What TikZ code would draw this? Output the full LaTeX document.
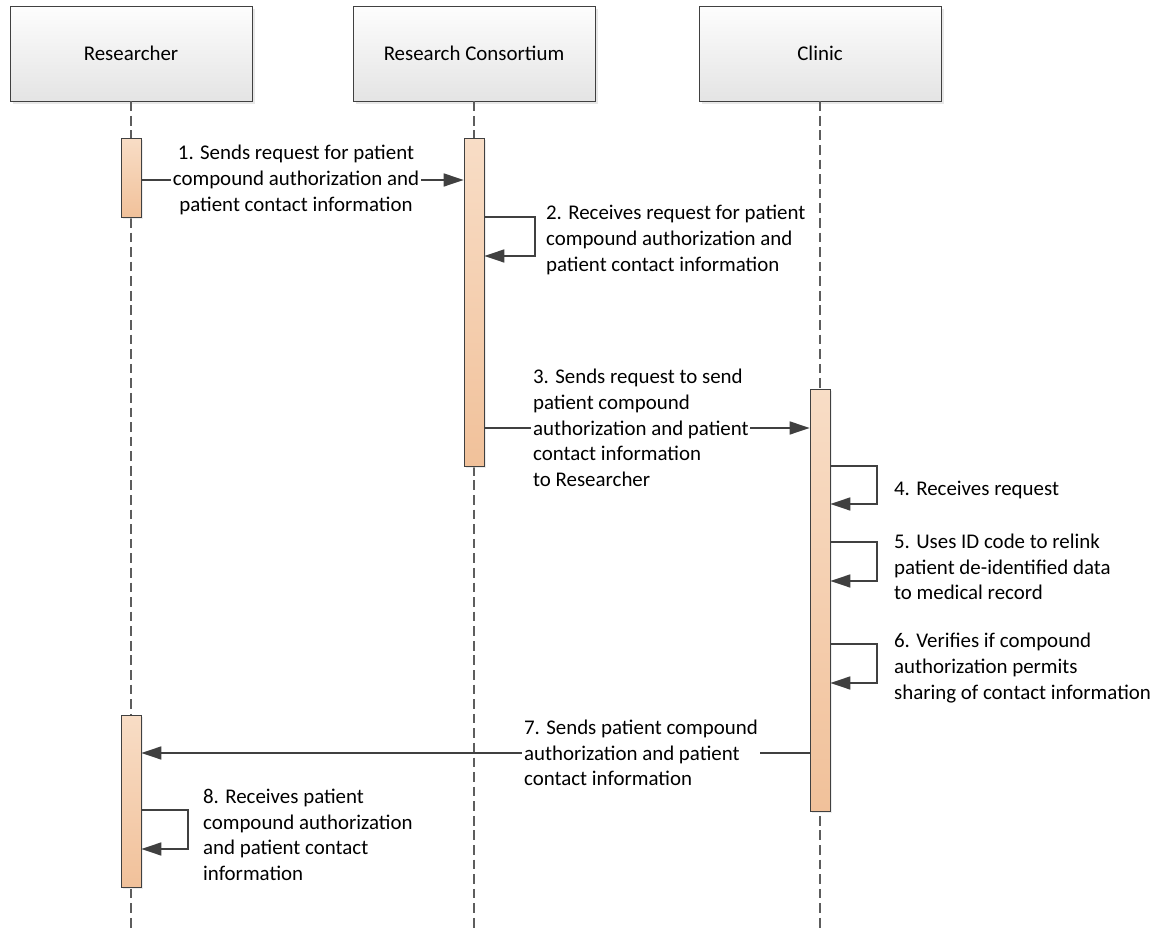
\documentclass[tikz,border=0pt]{standalone}
\usepackage{fontspec}
\setmainfont{Carlito}
\usetikzlibrary{arrows.meta,shadows}

\definecolor{linegray}{HTML}{404040}
\definecolor{boxtop}{HTML}{FDFDFD}
\definecolor{boxbot}{HTML}{E4E4E4}
\definecolor{bartop}{HTML}{F8DDC6}
\definecolor{barbot}{HTML}{F1C19A}

\begin{document}
\begin{tikzpicture}[x=0.02cm,y=-0.02cm,font=\fontsize{11.9pt}{14.6pt}\selectfont,
actor/.style = {draw=linegray, top color=boxtop, bottom color=boxbot, minimum width=4.84cm, minimum height=1.9cm, drop shadow={shadow xshift=1.5pt, shadow yshift=-1.5pt, fill=black!18}},
bar/.style = {draw=linegray, top color=bartop, bottom color=barbot, minimum width=0.4cm, inner sep=0pt, drop shadow={shadow xshift=1pt, shadow yshift=-1pt, fill=black!15}},
life/.style = {draw=linegray!85, line width=0.6pt, dash pattern=on 5.5pt off 2.8pt},
msg/.style = {draw=linegray, line width=0.9pt, -{Triangle[length=0.4cm,width=0.26cm]}},
lbl/.style = {align=left, inner sep=1pt}]
\useasboundingbox (0,0) rectangle (1164,928);
\node[actor] (res) at (131,53.5) {Researcher};
\node[actor] (con) at (474,53.5) {Research Consortium};
\node[actor] (cli) at (820,53.5) {Clinic};
\coordinate (bottom) at (0,928);
\draw[life] (res) -- (res |- bottom);
\draw[life] (con) -- (con |- bottom);
\draw[life] (cli) -- (cli |- bottom);
\node[bar, minimum height=1.58cm] (resA) at (131,177.5) {};
\node[bar, minimum height=6.56cm] (conA) at (474,302) {};
\node[bar, minimum height=8.44cm] (cliA) at (820,600) {};
\node[bar, minimum height=3.44cm] (resB) at (131,801) {};
\draw[msg] (resA.east |- 0,180) -- (conA.west |- 0,180);
\node[lbl, align=center, fill=white] (t1) at (296,180) {1. Sends request for patient\\compound authorization and\\patient contact information};
\draw[msg] (conA.east |- 0,217) -- (535,217) -- (535,256) -- (conA.east |- 0,256);
\node[lbl, anchor=west] (t2) at (544,240) {2. Receives request for patient\\compound authorization and\\patient contact information};
\draw[msg] (conA.east |- 0,428) -- (cliA.west |- 0,428);
\node[lbl, anchor=west, fill=white] (t3) at (531,428) {3. Sends request to send\\patient compound\\authorization and patient\\contact information\\to Researcher};
\draw[msg] (cliA.east |- 0,466) -- (877,466) -- (877,504) -- (cliA.east |- 0,504);
\node[lbl, anchor=west] (t4) at (892,490) {4. Receives request};
\draw[msg] (cliA.east |- 0,542) -- (877,542) -- (877,581) -- (cliA.east |- 0,581);
\node[lbl, anchor=west] (t5) at (892,567) {5. Uses ID code to relink\\patient de-identified data\\to medical record};
\draw[msg] (cliA.east |- 0,644) -- (877,644) -- (877,683) -- (cliA.east |- 0,683);
\node[lbl, anchor=west] (t6) at (892,668) {6. Verifies if compound\\authorization permits\\sharing of contact information};
\draw[msg] (cliA.west |- 0,753) -- (resB.east |- 0,753);
\node[lbl, anchor=west, fill=white] (t7) at (522,753) {7. Sends patient compound\\authorization and patient\\contact information};
\draw[msg] (resB.east |- 0,810) -- (188,810) -- (188,849) -- (resB.east |- 0,849);
\node[lbl, anchor=west] (t8) at (201,835) {8. Receives patient\\compound authorization\\and patient contact\\information};
\end{tikzpicture}
\end{document}
